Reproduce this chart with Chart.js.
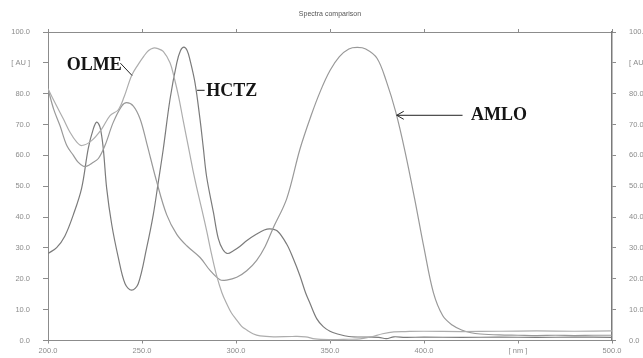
<!DOCTYPE html>
<html>
<head>
<meta charset="utf-8">
<title>Spectra comparison</title>
<script src="https://cdn.jsdelivr.net/npm/chart.js@4.4.1/dist/chart.umd.min.js"></script>
<style>
    html, body { margin: 0; padding: 0; background: #fff; }
    #wrap { width: 643px; height: 358px; }
</style>
</head>
<body>
<div id="wrap"><canvas id="spectraChart" width="643" height="358"></canvas></div>
<script>
// ================================================
// DONNEES
// ================================================

const chartTitle = 'Spectra comparison';

// axes
const xTickValues = [200, 250, 300, 350, 400, 450, 500];
const xUnitLabel = '[ nm ]';   // remplace 450
const yUnitLabel = '[ AU ]';   // remplace 90

// OLME
const olmeNm = [200, 204.6, 208.2, 211.7, 215.3, 218, 223.2, 228.6, 233, 237.4,
    240.5, 244.5, 248, 251, 253.5, 256, 258.5, 261.3, 264.9, 267,
    269.5, 272, 274.6, 277, 279.5, 282, 284.4, 287, 289.7, 292.5,
    295, 297.5, 300.4, 303, 305.7, 309, 312.8, 320, 330, 337,
    342, 350, 360, 366, 372, 378, 384, 390, 400, 420,
    440, 460, 480, 500];
const olmeAu = [81.6, 76, 71.8, 67.5, 64.3, 63.2, 64.8, 68.6, 72.9, 74.8,
    79, 85.9, 89.5, 92.2, 94, 94.8, 94.6, 93.7, 90, 85.5,
    79, 71, 63, 55.5, 48.5, 42, 35.5, 28, 21, 15.5,
    12, 9, 6.6, 4.6, 3.4, 2.2, 1.5, 1.2, 1.3, 1.2,
    0.5, 0.3, 0.4, 0.5, 1.2, 2.2, 2.8, 2.9, 3.0, 2.9,
    3.0, 3.1, 3.0, 3.1];

// HCTZ
const hctzNm = [200, 204.6, 209, 213.5, 217.9, 221.4, 224.1, 225.9, 227.7, 229.4,
    231.2, 233.9, 237.4, 241, 244.5, 248, 252.5, 256, 258.7, 261.3,
    264.9, 268.5, 270.5, 272.3, 274, 275.5, 278.2, 280.9, 282.6, 284.4,
    288, 290.6, 293, 295.5, 298.6, 302, 306, 311, 315, 318,
    322, 327, 330.5, 334, 337, 339.4, 343, 346.4, 350, 353.6,
    360, 370, 376, 380, 384, 390, 400, 420, 440, 460,
    480, 500];
const hctzAu = [28.2, 30.1, 33.9, 40.8, 49.4, 62.2, 68.6, 70.8, 69.1, 62.2,
    49.4, 37.6, 26.9, 18.4, 16.3, 18.4, 30.1, 40.8, 51.5, 62,
    78.2, 90, 94, 95.1, 94, 91, 83.5, 71.5, 62.5, 53,
    41.5, 33, 29.5, 28.2, 29.1, 30.5, 32.5, 34.5, 35.8, 36.2,
    35.5, 31.2, 26.5, 21, 15.5, 12, 7, 4.5, 3, 2.2,
    1.3, 1.1, 1.0, 0.6, 1.2, 1.0, 1.1, 1.0, 1.1, 1.0,
    1.1, 1.0];

// AMLO
const amloNm = [200, 203, 206.4, 210, 213.5, 216, 218.8, 221, 223.2, 226.8,
    230.3, 234.7, 239.2, 241.8, 245.4, 249, 252.5, 257.8, 263.1, 268.5,
    273.8, 280.9, 286.2, 291.5, 295, 300.4, 305.7, 311, 315.5, 319.8,
    327, 334, 340, 345, 350, 355, 360, 364.5, 369, 375,
    380, 385, 390, 395, 400, 405, 410, 415, 420, 425,
    430, 440, 450, 460, 470, 480, 490, 500];
const amloAu = [81.6, 75, 69.6, 63.2, 60, 57.8, 56.5, 56.6, 57.4, 59,
    63.2, 70.7, 76, 77.1, 76, 71.8, 64, 51.5, 40.8, 34.4,
    30.7, 26.9, 22.7, 19.7, 19.6, 20.5, 22.6, 26, 30.5, 36.5,
    46, 62, 73, 81, 87.5, 92, 94.5, 95, 94.5, 91.5,
    84, 74, 61, 46, 30, 15.5, 8, 5, 3.4, 2.5,
    2.1, 1.8, 1.7, 1.6, 1.7, 1.6, 1.7, 1.7];

// ================================================
// ANNOTATIONS (en unites du graphique)
// ================================================

const labelNotes = [
    { text: 'OLME', x: 210, y: 89.1, lead: [[238.5, 89.9], [244.7, 85.9]] },
    { text: 'HCTZ', x: 284.2, y: 80.9, lead: [[279.3, 81.1], [283.3, 81.1]] },
    { text: 'AMLO', x: 425, y: 73, arrow: [[420.5, 73], [385.5, 73]] }
];

// ================================================
// HELPERS
// ================================================

function toPoints(xs, ys) {
    return xs.map((x, i) => ({ x: x, y: ys[i] }));
}

function fmtX(value) {
    return value === 450 ? xUnitLabel : value.toFixed(1);
}

function fmtY(value) {
    return value === 90 ? yUnitLabel : value.toFixed(1);
}

const axisColor = '#8c8c8c';
const tickFont = { family: 'Liberation Sans, Arial, sans-serif', size: 7.5 };

// dessine le titre et les etiquettes
const notesPlugin = {
    id: 'notes',
    afterDatasetsDraw(chart) {
        const ctx = chart.ctx;
        const sx = chart.scales.x;
        const sy = chart.scales.y;
        const area = chart.chartArea;

        ctx.save();
        ctx.fillStyle = '#555';
        ctx.font = '7px "Liberation Sans", Arial, sans-serif';
        ctx.textAlign = 'center';
        ctx.textBaseline = 'middle';
        ctx.fillText(chartTitle, (area.left + area.right) / 2, 14);

        ctx.fillStyle = '#151515';
        ctx.strokeStyle = '#222';
        ctx.lineWidth = 1;
        ctx.font = 'bold 18px "Liberation Serif", "Times New Roman", serif';
        ctx.textAlign = 'left';

        labelNotes.forEach(note => {
            ctx.fillText(note.text, sx.getPixelForValue(note.x), sy.getPixelForValue(note.y));
            const seg = note.lead || note.arrow;
            const x1 = sx.getPixelForValue(seg[0][0]);
            const y1 = sy.getPixelForValue(seg[0][1]);
            const x2 = sx.getPixelForValue(seg[1][0]);
            const y2 = sy.getPixelForValue(seg[1][1]);
            ctx.beginPath();
            ctx.moveTo(x1, y1);
            ctx.lineTo(x2, y2);
            if (note.arrow) {
                ctx.moveTo(x2 + 7, y2 - 4);
                ctx.lineTo(x2, y2);
                ctx.lineTo(x2 + 7, y2 + 4);
            }
            ctx.stroke();
        });
        ctx.restore();
    }
};

// ================================================
// GRAPHIQUE
// ================================================

function lineSet(label, xs, ys, color) {
    return {
        label: label,
        data: toPoints(xs, ys),
        borderColor: color,
        borderWidth: 1.2,
        pointRadius: 0,
        tension: 0.35,
        fill: false
    };
}

new Chart(document.getElementById('spectraChart'), {
    type: 'line',
    data: {
        datasets: [
            lineSet('OLME', olmeNm, olmeAu, '#adadad'),
            lineSet('AMLO', amloNm, amloAu, '#999999'),
            lineSet('HCTZ', hctzNm, hctzAu, '#7b7b7b')
        ]
    },
    options: {
        responsive: false,
        animation: false,
        devicePixelRatio: 1,
        layout: { padding: 0 },
        plugins: {
            legend: { display: false },
            title: { display: false },
            tooltip: { enabled: false }
        },
        scales: {
            x: {
                type: 'linear',
                position: 'bottom',
                min: 200,
                max: 500,
                afterBuildTicks: s => { s.ticks = xTickValues.map(v => ({ value: v })); },
                afterFit: s => { s.height = 14; },
                ticks: { callback: fmtX, font: tickFont, color: axisColor, padding: 3, maxRotation: 0 },
                grid: { drawOnChartArea: false, tickLength: 3, color: axisColor },
                border: { color: axisColor }
            },
            xTop: {
                type: 'linear',
                position: 'top',
                min: 200,
                max: 500,
                afterBuildTicks: s => { s.ticks = xTickValues.map(v => ({ value: v })); },
                afterFit: s => { s.height = 32; },
                ticks: { callback: () => '', font: tickFont },
                grid: { drawOnChartArea: false, tickLength: 3, color: axisColor },
                border: { color: axisColor }
            },
            y: {
                position: 'left',
                min: 0,
                max: 100,
                afterFit: s => { s.width = 48; },
                ticks: { stepSize: 10, callback: fmtY, font: tickFont, color: axisColor, padding: 13 },
                grid: { drawOnChartArea: false, tickLength: 5, color: axisColor },
                border: { color: axisColor }
            },
            y2: {
                position: 'right',
                min: 0,
                max: 100,
                afterFit: s => { s.width = 31; },
                ticks: { stepSize: 10, callback: fmtY, font: tickFont, color: axisColor, padding: 13 },
                grid: { drawOnChartArea: false, tickLength: 4, color: axisColor },
                border: { color: '#7a7a7a', width: 1.5 }
            }
        }
    },
    plugins: [notesPlugin]
});
</script>
</body>
</html>
